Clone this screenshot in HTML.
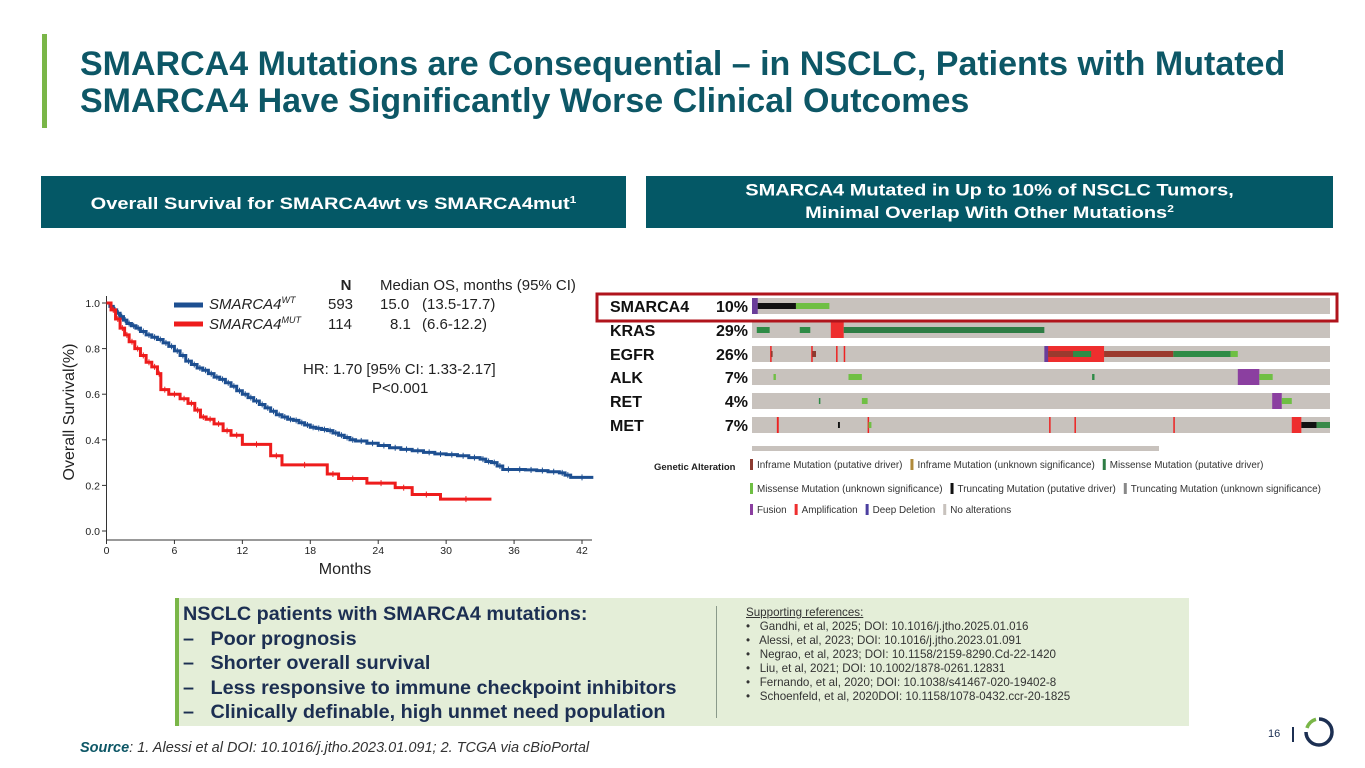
<!DOCTYPE html>
<html><head><meta charset="utf-8">
<style>
body{margin:0;width:1365px;height:768px;background:#fff;font-family:"Liberation Sans",sans-serif;position:relative;overflow:hidden}
.abs{position:absolute}
.title{left:80px;top:46px;font-size:34px;font-weight:bold;color:#0d5766;line-height:37px}
.hdr{background:#045866;color:#fff;font-weight:bold;font-size:20px;text-align:center;display:flex;align-items:center;justify-content:center;line-height:22px}
.hdr span{display:inline-block;transform:scaleY(0.82)}
.box{left:175px;top:598px;width:1010px;height:128px;background:#e4eed8;border-left:4px solid #7ab648}
.kt{font-weight:bold;font-size:19.8px;color:#1c2f52;line-height:24.5px}
.refs{font-size:11.6px;color:#333;line-height:14px}
</style></head><body>
<div class="abs" style="left:42px;top:34px;width:5px;height:94px;background:#7ab648"></div>
<div class="abs title">SMARCA4 Mutations are Consequential – in NSCLC, Patients with Mutated<br>SMARCA4 Have Significantly Worse Clinical Outcomes</div>
<div class="abs hdr" style="left:41px;top:176px;width:585px;height:52px"><span>Overall Survival for SMARCA4wt vs SMARCA4mut<sup style="font-size:12px">1</sup></span></div>
<div class="abs hdr" style="left:646px;top:176px;width:687px;height:52px"><span>SMARCA4 Mutated in Up to 10% of NSCLC Tumors,<br>Minimal Overlap With Other Mutations<sup style="font-size:12px">2</sup></span></div>

<svg class="abs" style="left:0;top:0" width="1365" height="768">
<g id="km"></g>
<g id="onco"></g>
</svg>

<div class="abs box">
 <div class="abs kt" style="left:4px;top:4px">
  <div>NSCLC patients with SMARCA4 mutations:</div>
  <div>–&nbsp;&nbsp; Poor prognosis</div>
  <div>–&nbsp;&nbsp; Shorter overall survival</div>
  <div>–&nbsp;&nbsp; Less responsive to immune checkpoint inhibitors</div>
  <div>–&nbsp;&nbsp; Clinically definable, high unmet need population</div>
 </div>
 <div class="abs" style="left:537px;top:8px;width:1px;height:112px;background:#8a9a8a"></div>
 <div class="abs refs" style="left:567px;top:8px">
  <div style="text-decoration:underline">Supporting references:</div>
  <div>•&nbsp;&nbsp; Gandhi, et al, 2025; DOI: 10.1016/j.jtho.2025.01.016</div>
  <div>•&nbsp;&nbsp; Alessi, et al, 2023; DOI: 10.1016/j.jtho.2023.01.091</div>
  <div>•&nbsp;&nbsp; Negrao, et al, 2023; DOI: 10.1158/2159-8290.Cd-22-1420</div>
  <div>•&nbsp;&nbsp; Liu, et al, 2021; DOI: 10.1002/1878-0261.12831</div>
  <div>•&nbsp;&nbsp; Fernando, et al, 2020; DOI: 10.1038/s41467-020-19402-8</div>
  <div>•&nbsp;&nbsp; Schoenfeld, et al, 2020DOI: 10.1158/1078-0432.ccr-20-1825</div>
 </div>
</div>
<div class="abs" style="left:80px;top:740px;font-size:14.5px;font-style:italic;color:#333"><b style="color:#0d5766">Source</b>: 1. Alessi et al DOI: 10.1016/j.jtho.2023.01.091; 2. TCGA via cBioPortal</div>
<div class="abs" style="left:1268px;top:728px;font-size:11px;color:#1c2f52">16</div>
<div class="abs" style="left:1292px;top:727px;width:2px;height:15px;background:#1c2f52"></div>
<svg class="abs" style="left:1303px;top:716px" width="32" height="32">
<path d="M16 3 A13 13 0 1 1 3 16" fill="none" stroke="#1c2f52" stroke-width="3.5"/>
<path d="M4 12 A13 13 0 0 1 13 3.3" fill="none" stroke="#7ab648" stroke-width="3.5"/>
</svg>

<script>
const months=[0,6,12,18,24,30,36,42];
const yTicks=[0,0.2,0.4,0.6,0.8,1.0];
const wtT=[0,0.3,0.6,0.9,1.2,1.5,1.8,2.2,2.6,3,3.5,4,4.5,5,5.5,6,6.5,7,7.5,8,8.5,9,9.5,10,10.5,11,11.5,12,12.5,13,13.5,14,14.5,15,15.5,16,16.5,17,17.5,18,18.5,19,19.5,20,20.5,21,21.5,22,23,24,25,26,27,28,29,30,31,32,33,33.5,34,34.5,35,36,37,38,39,40,40.5,41,43];
const wtS=[1,0.985,0.97,0.955,0.94,0.925,0.91,0.9,0.89,0.875,0.86,0.85,0.84,0.825,0.81,0.79,0.77,0.745,0.73,0.715,0.705,0.69,0.675,0.665,0.65,0.635,0.615,0.6,0.585,0.57,0.555,0.54,0.525,0.51,0.5,0.49,0.485,0.475,0.465,0.455,0.45,0.445,0.44,0.43,0.42,0.41,0.4,0.395,0.385,0.375,0.365,0.358,0.352,0.345,0.338,0.335,0.33,0.322,0.315,0.305,0.3,0.285,0.27,0.27,0.268,0.265,0.26,0.255,0.245,0.235,0.235];
const mutT=[0,0.4,0.8,1.2,1.6,2,2.5,3,3.5,4,4.5,4.8,5.5,6.5,7.2,7.8,8.3,8.8,9.5,10.3,11,12,14.5,15.5,19.5,20.5,23,25.5,27,29.5,34];
const mutS=[1,0.97,0.93,0.89,0.86,0.83,0.8,0.77,0.74,0.72,0.69,0.62,0.6,0.58,0.56,0.53,0.5,0.49,0.47,0.44,0.42,0.38,0.33,0.29,0.25,0.23,0.21,0.19,0.16,0.14,0.14];

const genes=['SMARCA4','KRAS','EGFR','ALK','RET','MET'];
const pcts=['10%','29%','26%','7%','4%','7%'];
const segs=[
[0,0,12,'#6a3d9a',1],[0,12,92,'#111',0],[0,92,162,'#6fbf44',0],
[1,10,37,'#2e8b46',0],[1,100,122,'#2e8b46',0],[1,165,192,'#ee2e2e',1],[1,192,612,'#2e7d45',0],
[2,38,40,'#e22',1],[2,124,126,'#e22',1],[2,176,178,'#e22',1],[2,192,194,'#e22',1],[2,40,43,'#8c3b30',0],[2,126,134,'#8c3b30',0],
[2,617,737,'#ee2e2e',1],[2,612,620,'#6a3d9a',1],[2,620,672,'#9b3a2e',0],[2,672,710,'#2e8b46',0],[2,737,882,'#9b3a2e',0],[2,882,1002,'#2e8b46',0],[2,1002,1017,'#6fbf44',0],
[3,45,50,'#6fbf44',0],[3,202,230,'#6fbf44',0],[3,712,717,'#2e8b46',0],[3,1017,1062,'#8b3fa0',1],[3,1062,1090,'#6fbf44',0],
[4,140,142,'#2e8b46',0],[4,230,242,'#6fbf44',0],[4,1089,1109,'#8b3fa0',1],[4,1109,1130,'#6fbf44',0],
[5,52,56,'#e22',1],[5,242,244,'#e22',1],[5,622,624,'#e22',1],[5,675,677,'#e22',1],[5,882,884,'#e22',1],[5,180,184,'#111',0],[5,244,250,'#6fbf44',0],
[5,1130,1150,'#ee2e2e',1],[5,1150,1182,'#111',0],[5,1182,1210,'#3a8a4a',0]
];
const legend=[
[['Inframe Mutation (putative driver)','#8c3b30'],['Inframe Mutation (unknown significance)','#b08a3a'],['Missense Mutation (putative driver)','#2e7d45']],
[['Missense Mutation (unknown significance)','#6fbf44'],['Truncating Mutation (putative driver)','#111'],['Truncating Mutation (unknown significance)','#888']],
[['Fusion','#8b3fa0'],['Amplification','#ee2e2e'],['Deep Deletion','#4b3fa0'],['No alterations','#c8c2bd']]
];

const NS='http://www.w3.org/2000/svg';
function mk(p,tag,a,txt){const e=document.createElementNS(NS,tag);for(const k in a)e.setAttribute(k,a[k]);if(txt!==undefined)e.textContent=txt;p.appendChild(e);return e;}
const X=m=>106.5+m*(582-106.5)/42;
const Y=s=>531-s*(531-303);

const km=document.getElementById('km');
let e=mk(km,'line',{x1:106.5,y1:296,x2:106.5,y2:540,stroke:'#333','stroke-width':1});

e=mk(km,'line',{x1:106.5,y1:540,x2:592,y2:540,stroke:'#333','stroke-width':1});

months.forEach(m=>{
 e=mk(km,'line',{x1:X(m),y1:540,x2:X(m),y2:544,stroke:'#333'});
 
 e=mk(km,'text',{x:X(m),y:554,'font-size':10.5,'text-anchor':'middle',fill:'#222'},String(m));
 
});
yTicks.forEach(v=>{
 e=mk(km,'line',{x1:102,y1:Y(v),x2:106.5,y2:Y(v),stroke:'#333'});
 
 e=mk(km,'text',{x:100,y:Y(v)+4,'font-size':10.5,'text-anchor':'end',fill:'#222'},v.toFixed(1));
 
});
e=mk(km,'text',{x:345,y:574,'font-size':16,'text-anchor':'middle',fill:'#222'},'Months');

e=mk(km,'text',{x:0,y:0,'font-size':16,'text-anchor':'middle',fill:'#222',transform:'translate(74,412) rotate(-90)'},'Overall Survival(%)');

function step(T,S){let d='M'+X(T[0])+' '+Y(S[0]);for(let i=1;i<T.length;i++){d+=' H'+X(T[i])+' V'+Y(S[i]);}return d;}
function censor(T,S,col,name){for(let i=1;i<T.length-1;i++){const mx=(T[i]+T[i+1])/2;const c=mk(km,'line',{x1:X(mx),y1:Y(S[i])-3,x2:X(mx),y2:Y(S[i])+3,stroke:col,'stroke-width':1});}}
e=mk(km,'path',{d:step(wtT,wtS),fill:'none',stroke:'#1d4f91','stroke-width':3});

censor(wtT,wtS,'#1d4f91','wt-censor-mark');
e=mk(km,'path',{d:step(mutT,mutS),fill:'none',stroke:'#ee1c1c','stroke-width':3});

censor(mutT,mutS,'#ee1c1c','mut-censor-mark');
const lg=mk(km,'g',{'font-size':15,fill:'#222'});

mk(lg,'text',{x:346,y:290,'font-weight':'bold','text-anchor':'middle'},'N');
mk(lg,'text',{x:380,y:290},'Median OS, months (95% CI)');
e=mk(lg,'line',{x1:174,y1:305,x2:203,y2:305,stroke:'#1d4f91','stroke-width':5});

e=mk(lg,'line',{x1:174,y1:324,x2:203,y2:324,stroke:'#ee1c1c','stroke-width':5});

const t1=mk(lg,'text',{x:209,y:309,'font-style':'italic'},'SMARCA4');mk(t1,'tspan',{'font-size':9,dy:-6},'WT');
const t2=mk(lg,'text',{x:209,y:329,'font-style':'italic'},'SMARCA4');mk(t2,'tspan',{'font-size':9,dy:-6},'MUT');
mk(lg,'text',{x:328,y:309},'593');mk(lg,'text',{x:380,y:309},'15.0');mk(lg,'text',{x:422,y:309},'(13.5-17.7)');
mk(lg,'text',{x:328,y:329},'114');mk(lg,'text',{x:390,y:329},'8.1');mk(lg,'text',{x:422,y:329},'(6.6-12.2)');
mk(lg,'text',{x:303,y:374},'HR: 1.70 [95% CI: 1.33-2.17]');
mk(lg,'text',{x:372,y:393},'P<0.001');

const on=document.getElementById('onco');
const x0=752,W=578,rowY=[298,322,346,369,393,417],rh=16;
const SX=v=>x0+v*W/1210;
genes.forEach((g,i)=>{
 e=mk(on,'rect',{x:x0,y:rowY[i],width:W,height:rh,fill:'#c8c2bd'});
 
 e=mk(on,'text',{x:610,y:rowY[i]+14,'font-size':16,'font-weight':'bold',fill:'#111'},g);
 
 e=mk(on,'text',{x:748,y:rowY[i]+14,'font-size':16,'font-weight':'bold',fill:'#111','text-anchor':'end'},pcts[i]);
 
});
segs.forEach(s=>{
 const y=rowY[s[0]], tall=s[4];
 e=mk(on,'rect',{x:SX(s[1]),y:tall?y:y+5,width:Math.max(1.5,SX(s[2])-SX(s[1])),height:tall?rh:6,fill:s[3]});
 
});
e=mk(on,'rect',{x:597,y:294,width:740,height:27,fill:'none',stroke:'#b0141c','stroke-width':3});

e=mk(on,'rect',{x:752,y:446,width:407,height:5,fill:'#c8c2bd'});

e=mk(on,'text',{x:654,y:470,'font-size':9.5,'font-weight':'bold',fill:'#222'},'Genetic Alteration');

const lgRowY=[467,491,512];
legend.forEach((row,r)=>{
 let x=750;
 row.forEach(it=>{
  e=mk(on,'rect',{x:x,y:lgRowY[r]-8,width:3,height:11,fill:it[1]});
  
  const t=mk(on,'text',{x:x+7,y:lgRowY[r]+1,'font-size':9.9,fill:'#333'},it[0]);
  
  x+=7+t.getComputedTextLength()+8;
 });
});
</script>
</body></html>
